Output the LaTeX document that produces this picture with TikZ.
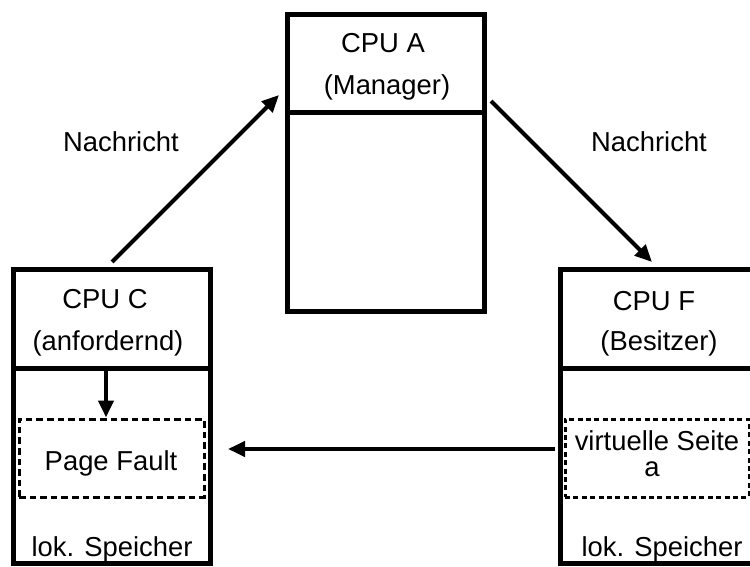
\documentclass[tikz,border=0pt]{standalone}
\usepackage{fontspec}
\setmainfont{Liberation Sans}
\usetikzlibrary{arrows.meta,calc}
\begin{document}
\begin{tikzpicture}[x=0.5pt,y=-0.5pt,
  cpubox/.style={draw, line width=2.5pt, rectangle, inner sep=0pt},
  pagebox/.style={draw, line width=1.5pt, rectangle, inner sep=0pt},
  msg/.style={-{Triangle[length=8.5pt,width=7.5pt]}, line width=2pt},
  lbl/.style={font=\fontsize{13.7}{16}\selectfont, inner sep=0pt, anchor=base}]
\useasboundingbox (0,0) rectangle (750,567);
\clip (0,0) rectangle (750,567);

% CPU boxes
\node[cpubox, minimum width=98.5pt, minimum height=148pt] (A) at (385.5,163) {};
\node[cpubox, minimum width=98.5pt, minimum height=147pt] (C) at (111.5,416) {};
\node[cpubox, minimum width=110pt, minimum height=147pt] (F) at (670,416) {};

% header dividers
\draw[line width=2.5pt] (A.west |- 0,113) -- (A.east |- 0,113);
\draw[line width=2.5pt] (C.west |- 0,368) -- (C.east |- 0,368);
\draw[line width=2.5pt] (F.west |- 0,368) -- (F.east |- 0,368);

% page boxes in local memory
\node[pagebox, dash pattern=on 3.3pt off 2pt, minimum width=92.5pt, minimum height=39pt] (PF) at (111.5,458) {};
\node[pagebox, dash pattern=on 2.5pt off 1.7pt, minimum width=92pt, minimum height=39pt] (VS) at (657,458) {};

% labels
\node[lbl] (Aname) at (383,53) {CPU A};
\node[lbl] (Arole) at (387,95) {(Manager)};
\node[lbl] (Cname) at (105,308) {CPU C};
\node[lbl] (Crole) at (108,350) {(anfordernd)};
\node[lbl] (Fname) at (654,310) {CPU F};
\node[lbl] (Frole) at (659,350) {(Besitzer)};
\node[lbl] (PFtxt) at (111,470) {Page Fault};
\node[lbl] (VStxt) at (657,450) {virtuelle Seite};
\node[lbl] (VSa) at (652,476) {a};
\node[lbl] (Cmem) at (112,556) {lok. Speicher};
\node[lbl] (Fmem) at (662,556) {lok. Speicher};
\node[lbl] (msgL) at (121,152) {Nachricht};
\node[lbl] (msgR) at (649,152) {Nachricht};

% message arrows
\coordinate (cOut) at (112,262);
\coordinate (aIn) at (279,95);
\coordinate (aOut) at (491,101);
\coordinate (fIn) at (652,262);
\coordinate (cDiv) at (106,368);
\coordinate (fSend) at (555,449);
\coordinate (cRecv) at (228,449);
\draw[msg] (cOut) -- (aIn);
\draw[msg] (aOut) -- (fIn);
\draw[msg] (cDiv) -- (cDiv |- PF.north);
\draw[msg] (fSend) -- (cRecv);
\end{tikzpicture}
\end{document}
